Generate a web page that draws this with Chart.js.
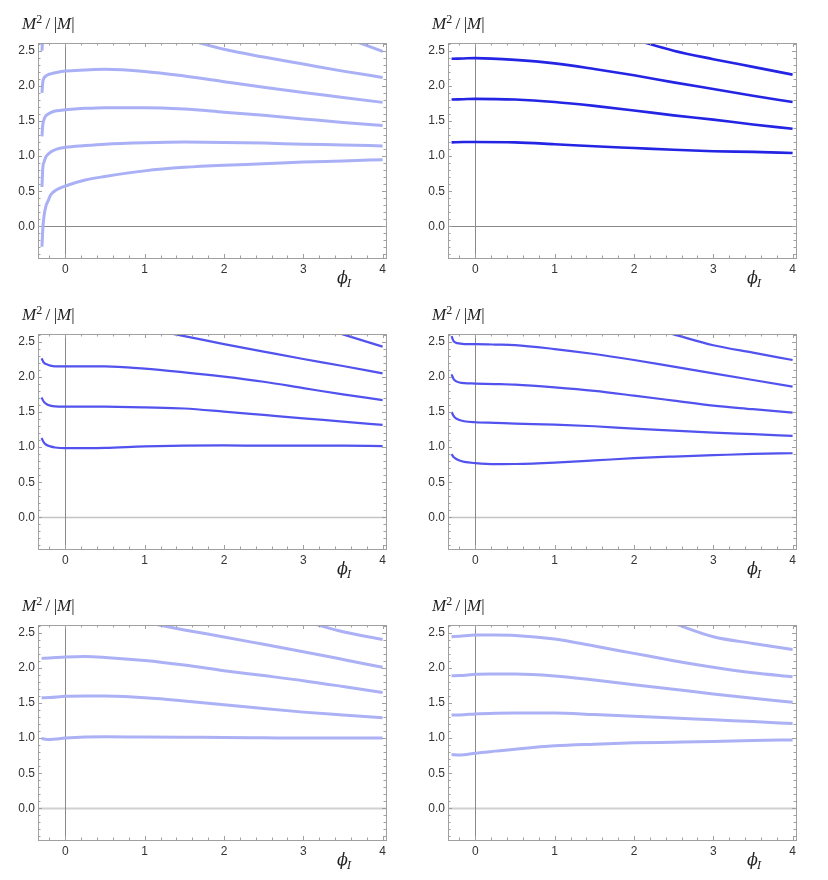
<!DOCTYPE html>
<html>
<head>
<meta charset="utf-8">
<script src="https://cdn.jsdelivr.net/npm/chart.js@4.4.0/dist/chart.umd.min.js"></script>
<style>
body { margin: 0; background: #fff; }
#wrap { position: relative; width: 828px; height: 880px; }
.panel { position: absolute; width: 414px; height: 291px; }
.panel canvas { position: absolute; left: 0; top: 0; }
.ylab { position: absolute; top: 14px; font: 17px "Liberation Serif", "DejaVu Serif", serif; color: #222; white-space: nowrap; line-height: 20px; }
.xlab { position: absolute; top: 268px; font: 16px "DejaVu Serif", "Liberation Serif", serif; color: #222; white-space: nowrap; line-height: 20px; }
.ylab sup { font-size: 12px; vertical-align: 6px; line-height: 0; }
.xlab sub { font-size: 11px; vertical-align: -4px; line-height: 0; margin-left: -1px; }
</style>
</head>
<body>
<div id="wrap"></div>
<script>
// axis setup
var xRange = [-0.345, 4.043];
var yRange = [-0.45, 2.61];
var xTicks = [0, 1, 2, 3, 4];
var yTicks = [0, 0.5, 1, 1.5, 2, 2.5];

// panel 1 (top left)
var phi1 = [-0.295, -0.285, -0.27, -0.245, -0.215, -0.185, -0.11, 0, 0.25, 0.5, 1, 1.5, 2, 2.5, 3, 3.5, 4];
var p1a = [-0.29, -0.05, 0.14, 0.29, 0.37, 0.45, 0.52, 0.575, 0.66, 0.71, 0.79, 0.84, 0.87, 0.89, 0.915, 0.93, 0.95];
var p1b = [0.56, 0.83, 0.91, 0.99, 1.03, 1.06, 1.10, 1.125, 1.15, 1.17, 1.19, 1.20, 1.195, 1.185, 1.17, 1.16, 1.145];
var p1c = [1.28, 1.44, 1.52, 1.575, 1.60, 1.62, 1.645, 1.66, 1.68, 1.69, 1.69, 1.67, 1.625, 1.58, 1.53, 1.48, 1.435];
var p1d = [1.90, 2.05, 2.11, 2.14, 2.16, 2.17, 2.19, 2.21, 2.225, 2.235, 2.205, 2.14, 2.06, 1.98, 1.905, 1.835, 1.765];
var p1e = [2.50, 2.68, null, null, null, null, null, null, null, null, null, 2.67, 2.52, 2.41, 2.31, 2.21, 2.12];
var p1f = [null, null, null, null, null, null, null, null, null, null, null, null, null, null, null, 2.70, 2.49];

// panel 2 (top right)
var phi2 = [-0.3, -0.15, 0, 0.5, 1, 1.5, 2, 2.5, 3, 3.5, 4];
var p2a = [1.196, 1.20, 1.20, 1.196, 1.17, 1.14, 1.115, 1.09, 1.07, 1.06, 1.045];
var p2b = [1.805, 1.81, 1.815, 1.805, 1.77, 1.715, 1.65, 1.58, 1.52, 1.45, 1.39];
var p2c = [2.385, 2.39, 2.395, 2.37, 2.32, 2.24, 2.15, 2.05, 1.955, 1.86, 1.77];
var p2d = [null, null, null, null, null, null, 2.66, 2.50, 2.38, 2.27, 2.16];

// panel 3 (middle left)
var phi3 = [-0.3, -0.27, -0.235, -0.19, -0.13, 0, 0.5, 1, 1.5, 2, 2.5, 3, 3.5, 4];
var p3a = [1.13, 1.065, 1.03, 1.01, 0.995, 0.985, 0.99, 1.01, 1.02, 1.025, 1.02, 1.02, 1.02, 1.015];
var p3b = [1.705, 1.643, 1.61, 1.59, 1.58, 1.577, 1.575, 1.565, 1.55, 1.506, 1.458, 1.41, 1.364, 1.316];
var p3c = [2.263, 2.20, 2.178, 2.16, 2.15, 2.15, 2.15, 2.117, 2.064, 2.003, 1.93, 1.84, 1.75, 1.67];
var p3d = [null, null, null, null, null, null, null, 2.69, 2.58, 2.467, 2.36, 2.254, 2.155, 2.05];
var p3e = [null, null, null, null, null, null, null, null, null, null, null, 2.78, 2.605, 2.43];

// panel 4 (middle right)
var phi4 = [-0.3, -0.275, -0.245, -0.2, -0.14, 0, 0.25, 0.5, 1, 1.5, 2, 2.5, 3, 3.5, 4];
var p4a = [0.90, 0.86, 0.835, 0.81, 0.79, 0.772, 0.758, 0.76, 0.78, 0.81, 0.843, 0.866, 0.885, 0.904, 0.913];
var p4b = [1.50, 1.445, 1.41, 1.387, 1.368, 1.354, 1.345, 1.335, 1.32, 1.297, 1.264, 1.236, 1.207, 1.184, 1.16];
var p4c = [2.035, 1.97, 1.94, 1.92, 1.91, 1.905, 1.898, 1.889, 1.85, 1.80, 1.733, 1.662, 1.59, 1.54, 1.49];
var p4d = [2.58, 2.51, 2.486, 2.476, 2.467, 2.465, 2.46, 2.453, 2.396, 2.325, 2.24, 2.145, 2.05, 1.955, 1.86];
var p4e = [null, null, null, null, null, null, null, null, null, null, 2.76, 2.605, 2.45, 2.344, 2.24];

// panel 5 (bottom left)
var phi5 = [-0.3, -0.2, 0, 0.25, 0.5, 1, 1.5, 2, 2.5, 3, 3.5, 4];
var p5a = [0.995, 0.98, 1.0, 1.015, 1.02, 1.015, 1.012, 1.01, 1.005, 1.0, 1.0, 1.0];
var p5b = [1.575, 1.578, 1.595, 1.60, 1.598, 1.575, 1.53, 1.475, 1.42, 1.37, 1.33, 1.29];
var p5c = [2.135, 2.14, 2.155, 2.16, 2.148, 2.105, 2.04, 1.96, 1.89, 1.818, 1.735, 1.648];
var p5d = [null, null, null, null, null, 2.65, 2.54, 2.44, 2.335, 2.23, 2.12, 2.008];
var p5e = [null, null, null, null, null, null, null, null, null, 2.67, 2.514, 2.405];

// panel 6 (bottom right)
var phi6 = [-0.3, -0.2, 0, 0.25, 0.5, 1, 1.5, 2, 2.5, 3, 3.5, 4];
var p6a = [0.767, 0.758, 0.786, 0.815, 0.843, 0.89, 0.914, 0.933, 0.942, 0.952, 0.966, 0.975];
var p6b = [1.33, 1.33, 1.345, 1.355, 1.359, 1.359, 1.335, 1.31, 1.288, 1.26, 1.236, 1.207];
var p6c = [1.889, 1.89, 1.908, 1.912, 1.913, 1.885, 1.828, 1.761, 1.695, 1.629, 1.567, 1.51];
var p6d = [2.443, 2.45, 2.467, 2.467, 2.462, 2.41, 2.31, 2.206, 2.102, 2.008, 1.93, 1.875];
var p6e = [null, null, null, null, null, null, null, null, 2.633, 2.443, 2.348, 2.26];

var panels = [
    { col: 0, row: 0, xs: phi1, ys: [p1a, p1b, p1c, p1d, p1e, p1f], color: '#aab0f5', width: 3, zero: '#8a8a8a', zeroW: 1 },
    { col: 1, row: 0, xs: phi2, ys: [p2a, p2b, p2c, p2d], color: '#2424e4', width: 2.6, zero: '#8a8a8a', zeroW: 1 },
    { col: 0, row: 1, xs: phi3, ys: [p3a, p3b, p3c, p3d, p3e], color: '#5252ee', width: 2.2, zero: '#c4c4c4', zeroW: 1.5 },
    { col: 1, row: 1, xs: phi4, ys: [p4a, p4b, p4c, p4d, p4e], color: '#5252ee', width: 2.2, zero: '#c4c4c4', zeroW: 1.5 },
    { col: 0, row: 2, xs: phi5, ys: [p5a, p5b, p5c, p5d, p5e], color: '#acb1f5', width: 3, zero: '#d0d0d0', zeroW: 2 },
    { col: 1, row: 2, xs: phi6, ys: [p6a, p6b, p6c, p6d, p6e], color: '#acb1f5', width: 3, zero: '#d0d0d0', zeroW: 2 }
];

// minor tick positions
var xMinor = [], yMinor = [];
for (var i = -1; i <= 20; i++) { if (i % 5 != 0) xMinor.push(i * 0.2); }
for (var j = -4; j <= 26; j++) { if (j % 5 != 0) yMinor.push(j * 0.1); }

var framePlugin = {
    id: 'frame',
    beforeDatasetsDraw: function(chart, args, opts) {
        var ctx = chart.ctx, a = chart.chartArea;
        var x0 = Math.round(chart.scales.x.getPixelForValue(0)) + 0.5;
        var y0 = Math.round(chart.scales.y.getPixelForValue(0)) + 0.5;
        ctx.save();
        ctx.strokeStyle = opts.zero;
        ctx.lineWidth = opts.zeroW;
        ctx.beginPath();
        ctx.moveTo(a.left, y0); ctx.lineTo(a.right, y0);
        ctx.stroke();
        ctx.strokeStyle = '#8a8a8a';
        ctx.lineWidth = 1;
        ctx.beginPath();
        ctx.moveTo(x0, a.top); ctx.lineTo(x0, a.bottom);
        ctx.stroke();
        ctx.restore();
    },
    afterDraw: function(chart) {
        var ctx = chart.ctx, a = chart.chartArea;
        var sx = chart.scales.x, sy = chart.scales.y;
        ctx.save();
        ctx.strokeStyle = '#a0a0a0';
        ctx.lineWidth = 1;
        ctx.strokeRect(Math.round(a.left) + 0.5, Math.round(a.top) + 0.5, Math.round(a.right - a.left), Math.round(a.bottom - a.top));
        ctx.beginPath();
        function xt(v, len) {
            var p = Math.round(sx.getPixelForValue(v)) + 0.5;
            ctx.moveTo(p, a.bottom); ctx.lineTo(p, a.bottom - len);
            ctx.moveTo(p, a.top); ctx.lineTo(p, a.top + len);
        }
        function yt(v, len) {
            var p = Math.round(sy.getPixelForValue(v)) + 0.5;
            if (p < a.top || p > a.bottom) return;
            ctx.moveTo(a.left, p); ctx.lineTo(a.left + len, p);
            ctx.moveTo(a.right, p); ctx.lineTo(a.right - len, p);
        }
        xTicks.forEach(function(v) { xt(v, 4); });
        xMinor.forEach(function(v) { xt(v, 2.5); });
        yTicks.forEach(function(v) { yt(v, 4); });
        yMinor.forEach(function(v) { yt(v, 2.5); });
        ctx.stroke();
        ctx.restore();
    }
};

var wrap = document.getElementById('wrap');
panels.forEach(function(p, k) {
    var left = p.col == 0 ? 38 : 34;
    var right = p.col == 0 ? 386 : 382;
    var div = document.createElement('div');
    div.className = 'panel';
    div.style.left = (p.col * 414) + 'px';
    div.style.top = (p.row * 291) + 'px';
    var cv = document.createElement('canvas');
    cv.width = 414; cv.height = 291;
    div.appendChild(cv);
    var yl = document.createElement('div');
    yl.className = 'ylab';
    yl.style.left = (left - 16) + 'px';
    yl.innerHTML = '<i>M</i><sup>2</sup>&#8201;/&#8201;|<i>M</i>|';
    div.appendChild(yl);
    var xl = document.createElement('div');
    xl.className = 'xlab';
    xl.style.left = (right - 49) + 'px';
    xl.innerHTML = '<i>&#981;</i><sub><i>I</i></sub>';
    div.appendChild(xl);
    wrap.appendChild(div);

    var datasets = p.ys.map(function(ys) {
        return {
            data: p.xs.map(function(x, i) { return { x: x, y: ys[i] }; }),
            showLine: true,
            borderColor: p.color,
            borderWidth: p.width,
            pointRadius: 0,
            cubicInterpolationMode: 'monotone',
            spanGaps: false,
            clip: 0
        };
    });

    new Chart(cv.getContext('2d'), {
        type: 'scatter',
        data: { datasets: datasets },
        options: {
            responsive: false,
            animation: false,
            devicePixelRatio: 1,
            events: [],
            layout: { padding: { top: 43, right: 414 - right, left: 0, bottom: 0 } },
            scales: {
                x: {
                    type: 'linear',
                    min: xRange[0], max: xRange[1],
                    grid: { display: false, drawTicks: false },
                    border: { display: false },
                    afterFit: function(s) { s.height = 33; },
                    afterBuildTicks: function(s) { s.ticks = xTicks.map(function(v) { return { value: v }; }); },
                    ticks: {
                        padding: 4, maxRotation: 0, autoSkip: false, color: '#333',
                        font: { family: 'Liberation Sans', size: 12 },
                        callback: function(v) { return String(v); }
                    }
                },
                y: {
                    type: 'linear',
                    min: yRange[0], max: yRange[1],
                    grid: { display: false, drawTicks: false },
                    border: { display: false },
                    afterFit: function(s) { s.width = left; },
                    afterBuildTicks: function(s) { s.ticks = yTicks.map(function(v) { return { value: v }; }); },
                    ticks: {
                        padding: 3, color: '#333',
                        font: { family: 'Liberation Sans', size: 12 },
                        callback: function(v) { return v.toFixed(1); }
                    }
                }
            },
            plugins: {
                legend: { display: false },
                tooltip: { enabled: false },
                frame: { zero: p.zero, zeroW: p.zeroW }
            }
        },
        plugins: [framePlugin]
    });
});
</script>
</body>
</html>
